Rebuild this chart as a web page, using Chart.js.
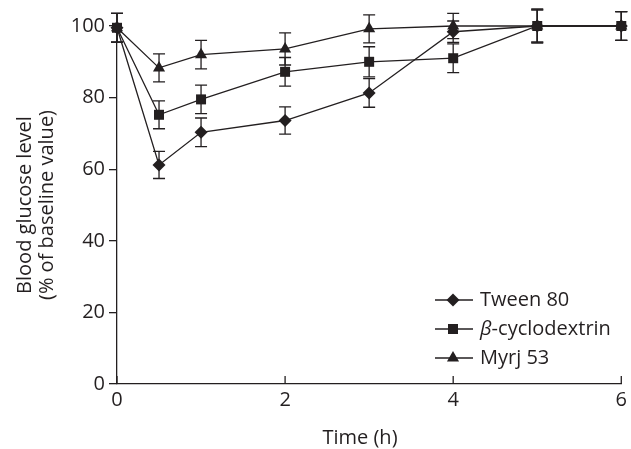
<!DOCTYPE html>
<html lang="en">
<head>
    <meta charset="UTF-8">
    <title>Blood glucose</title>
    <script src="https://cdn.jsdelivr.net/npm/chart.js@4"></script>
    <style>
        html, body { margin: 0; padding: 0; background: #fff; }
        .contenedorGrafica { width: 631px; height: 449px; position: relative; }
    </style>
</head>
<body>
<div class="contenedorGrafica"><canvas id="graficaGlucosa"></canvas></div>
<script>
    // datos
    const tiempos = [0, 0.5, 1, 2, 3, 4, 5, 6];
    const nombres = ['Tween 80', 'β-cyclodextrin', 'Myrj 53'];
    const tween80 = [99.5, 61.2, 70.3, 73.6, 81.3, 98.4, 100, 100];
    const tween80Err = [4, 3.8, 4, 3.8, 4, 3, 4.5, 4];
    const ciclodextrina = [99.5, 75.2, 79.5, 87.2, 90.0, 91.0, 100, 100];
    const ciclodextrinaErr = [4, 3.9, 4, 4, 4.2, 4, 4.8, 4];
    const myrj53 = [99.5, 88.3, 92.0, 93.6, 99.2, 100, 100, 100];
    const myrj53Err = [4, 3.9, 4, 4.5, 3.9, 3.5, 4.5, 4];
    const ticksX = [0, 2, 4, 6];
    const ticksY = [0, 20, 40, 60, 80, 100];
    const tituloX = 'Time (h)';
    const tituloY = ['Blood glucose level', '(% of baseline value)'];

    const negro = '#231f20';
    const fuente = '"Open Sans", sans-serif';

    function puntos(valores) {
        return tiempos.map((t, i) => ({ x: t, y: valores[i] }));
    }

    function dibujarMarca(ctx, tipo, x, y) {
        ctx.beginPath();
        if (tipo === 'diamante') {
            const r = 6.5;
            ctx.moveTo(x, y - r); ctx.lineTo(x + r, y); ctx.lineTo(x, y + r); ctx.lineTo(x - r, y);
        } else if (tipo === 'cuadrado') {
            ctx.rect(x - 5, y - 5, 10, 10);
        } else {
            const r = 7;
            ctx.moveTo(x, y - r);
            ctx.lineTo(x + r * 0.866, y + r * 0.5);
            ctx.lineTo(x - r * 0.866, y + r * 0.5);
        }
        ctx.closePath();
        ctx.fill();
    }

    const barrasError = {
        id: 'barrasError',
        beforeDatasetsDraw(chart) {
            const ctx = chart.ctx;
            const sx = chart.scales.x, sy = chart.scales.y;
            ctx.save();
            ctx.strokeStyle = negro;
            ctx.lineWidth = 1.3;
            chart.data.datasets.forEach(ds => {
                ds.data.forEach((p, i) => {
                    const x = sx.getPixelForValue(p.x);
                    const y1 = sy.getPixelForValue(p.y + ds.errores[i]);
                    const y2 = sy.getPixelForValue(p.y - ds.errores[i]);
                    ctx.beginPath();
                    ctx.moveTo(x, y1); ctx.lineTo(x, y2);
                    ctx.moveTo(x - 6, y1); ctx.lineTo(x + 6, y1);
                    ctx.moveTo(x - 6, y2); ctx.lineTo(x + 6, y2);
                    ctx.stroke();
                });
            });
            ctx.restore();
        },
        afterDraw(chart) {
            const ctx = chart.ctx;
            const sx = chart.scales.x;
            const area = chart.chartArea;
            ctx.save();
            ctx.strokeStyle = negro;
            ctx.lineWidth = 1.3;
            // marcas del eje x hacia dentro
            ticksX.forEach(t => {
                const x = sx.getPixelForValue(t);
                ctx.beginPath();
                ctx.moveTo(x, area.bottom);
                ctx.lineTo(x, area.bottom - 8);
                ctx.stroke();
            });
            // titulo del eje x (algo desplazado a la izquierda en el original)
            ctx.fillStyle = negro;
            ctx.font = '20px ' + fuente;
            ctx.textAlign = 'center';
            ctx.textBaseline = 'middle';
            ctx.fillText(tituloX, 360, 438);
            // leyenda
            const tipos = ['diamante', 'cuadrado', 'triangulo'];
            const filas = [300, 329, 358];
            ctx.textAlign = 'left';
            tipos.forEach((tipo, i) => {
                const y = filas[i];
                ctx.beginPath();
                ctx.moveTo(435, y); ctx.lineTo(473, y);
                ctx.stroke();
                dibujarMarca(ctx, tipo, 453, y);
                let x = 480;
                let texto = nombres[i];
                if (texto.startsWith('β')) {
                    ctx.font = 'italic 20px ' + fuente;
                    ctx.fillText('β', x, y);
                    x += ctx.measureText('β').width;
                    texto = texto.slice(1);
                }
                ctx.font = '20px ' + fuente;
                ctx.fillText(texto, x, y);
            });
            ctx.restore();
        }
    };

    function serie(label, valores, errores, tipo, orden) {
        return {
            label: label,
            data: puntos(valores),
            errores: errores,
            borderColor: negro,
            backgroundColor: negro,
            borderWidth: 1.3,
            pointStyle: false,
            tipoMarca: tipo,
            order: orden,
            clip: false
        };
    }

    const marcas = {
        id: 'marcas',
        afterDatasetsDraw(chart) {
            const ctx = chart.ctx;
            const sx = chart.scales.x, sy = chart.scales.y;
            ctx.save();
            ctx.fillStyle = negro;
            const orden = [2, 0, 1];
            orden.forEach(k => {
                const ds = chart.data.datasets[k];
                ds.data.forEach(p => {
                    dibujarMarca(ctx, ds.tipoMarca, sx.getPixelForValue(p.x), sy.getPixelForValue(p.y));
                });
            });
            ctx.restore();
        }
    };

    new Chart(document.getElementById('graficaGlucosa'), {
        type: 'line',
        data: {
            datasets: [
                serie(nombres[0], tween80, tween80Err, 'diamante', 1),
                serie(nombres[1], ciclodextrina, ciclodextrinaErr, 'cuadrado', 0),
                serie(nombres[2], myrj53, myrj53Err, 'triangulo', 2)
            ]
        },
        options: {
            responsive: true,
            maintainAspectRatio: false,
            animation: false,
            layout: { padding: { top: 26, right: 9, left: 0, bottom: 0 } },
            plugins: { legend: { display: false }, tooltip: { enabled: false } },
            scales: {
                x: {
                    type: 'linear',
                    min: 0, max: 6,
                    afterBuildTicks: s => { s.ticks = ticksX.map(v => ({ value: v })); },
                    afterFit: s => { s.height = 65; },
                    grid: { display: true, drawOnChartArea: false, drawTicks: false },
                    border: { display: true, color: negro, width: 1.3 },
                    ticks: { color: negro, padding: 4, font: { family: fuente, size: 20 } },
                    title: { display: false }
                },
                y: {
                    min: 0, max: 100,
                    afterBuildTicks: s => { s.ticks = ticksY.map(v => ({ value: v })); },
                    afterFit: s => { s.width = 117; },
                    grid: { display: true, drawOnChartArea: false, drawTicks: true, tickLength: 8, color: negro, lineWidth: 1.3 },
                    border: { display: true, color: negro, width: 1.3 },
                    ticks: { color: negro, padding: 4, font: { family: fuente, size: 20 } },
                    title: {
                        display: true, text: tituloY, color: negro,
                        font: { family: fuente, size: 20, lineHeight: '22px' },
                        padding: { top: 14, bottom: 0 }
                    }
                }
            }
        },
        plugins: [barrasError, marcas]
    });
</script>
</body>
</html>
